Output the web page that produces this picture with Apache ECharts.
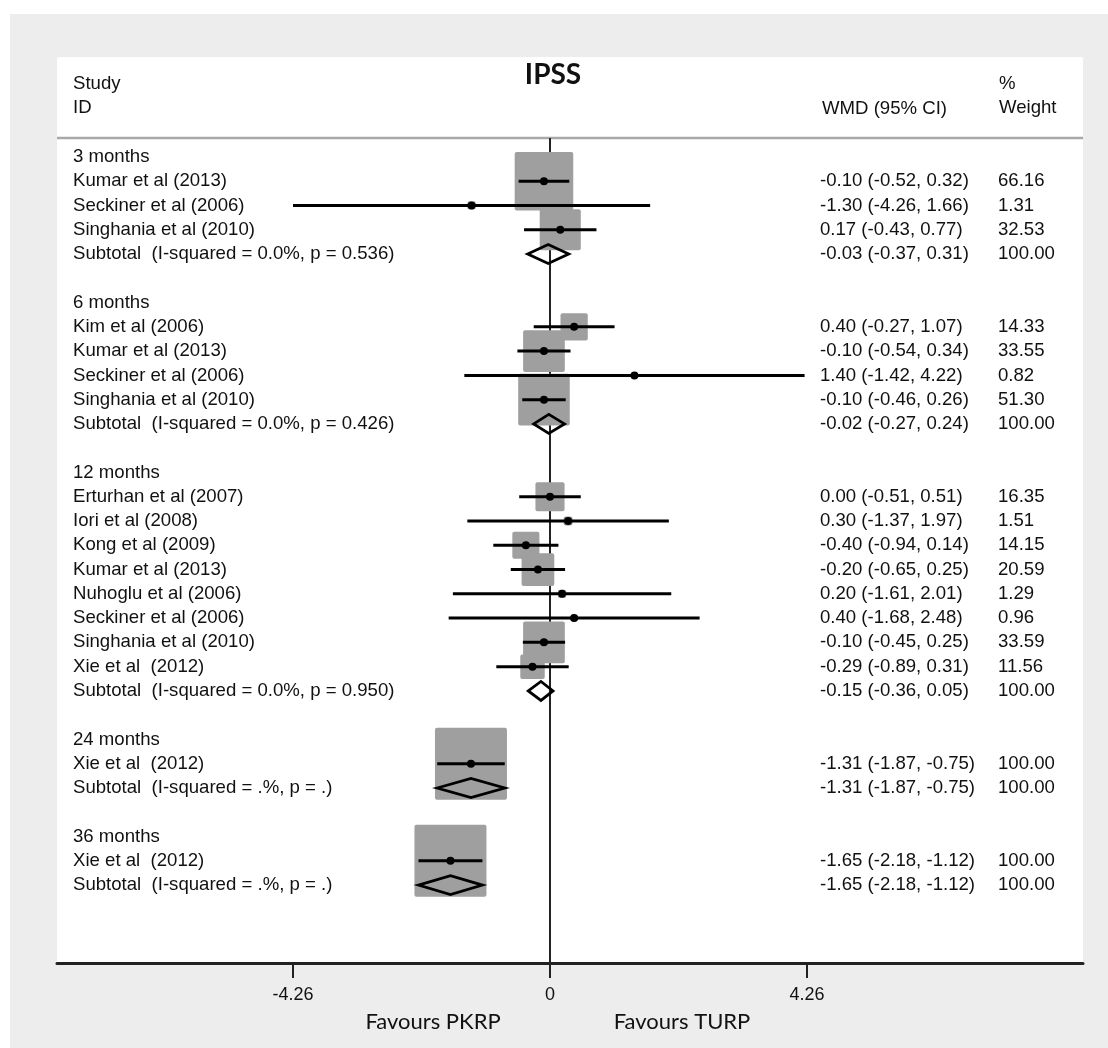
<!DOCTYPE html>
<html><head><meta charset="utf-8">
<script src="https://cdn.jsdelivr.net/npm/echarts@6/dist/echarts.min.js"></script>
<style>html,body{margin:0;padding:0;background:#fff}#c{width:1108px;height:1048px}</style>
</head><body><div id="c"></div>
<script>
// ---- data ----
const rowLabels = [
  "3 months", "Kumar et al (2013)", "Seckiner et al (2006)", "Singhania et al (2010)", "Subtotal  (I-squared = 0.0%, p = 0.536)", "",
  "6 months", "Kim et al (2006)", "Kumar et al (2013)", "Seckiner et al (2006)", "Singhania et al (2010)", "Subtotal  (I-squared = 0.0%, p = 0.426)", "",
  "12 months", "Erturhan et al (2007)", "Iori et al (2008)", "Kong et al (2009)", "Kumar et al (2013)", "Nuhoglu et al (2006)", "Seckiner et al (2006)", "Singhania et al (2010)", "Xie et al  (2012)", "Subtotal  (I-squared = 0.0%, p = 0.950)", "",
  "24 months", "Xie et al  (2012)", "Subtotal  (I-squared = .%, p = .)", "",
  "36 months", "Xie et al  (2012)", "Subtotal  (I-squared = .%, p = .)"
];
const rowTypes = [
  "group","study","study","study","subtotal","blank",
  "group","study","study","study","study","subtotal","blank",
  "group","study","study","study","study","study","study","study","study","subtotal","blank",
  "group","study","subtotal","blank",
  "group","study","subtotal"
];
const est = [null,-0.10,-1.30,0.17,-0.03,null, null,0.40,-0.10,1.40,-0.10,-0.02,null, null,0.00,0.30,-0.40,-0.20,0.20,0.40,-0.10,-0.29,-0.15,null, null,-1.31,-1.31,null, null,-1.65,-1.65];
const lo  = [null,-0.52,-4.26,-0.43,-0.37,null, null,-0.27,-0.54,-1.42,-0.46,-0.27,null, null,-0.51,-1.37,-0.94,-0.65,-1.61,-1.68,-0.45,-0.89,-0.36,null, null,-1.87,-1.87,null, null,-2.18,-2.18];
const hi  = [null,0.32,1.66,0.77,0.31,null, null,1.07,0.34,4.22,0.26,0.24,null, null,0.51,1.97,0.14,0.25,2.01,2.48,0.25,0.31,0.05,null, null,-0.75,-0.75,null, null,-1.12,-1.12];
const weights = [null,66.16,1.31,32.53,100.00,null, null,14.33,33.55,0.82,51.30,100.00,null, null,16.35,1.51,14.15,20.59,1.29,0.96,33.59,11.56,100.00,null, null,100.00,100.00,null, null,100.00,100.00];
const xTickValues = [-4.26, 0, 4.26];
const xTickLabels = ["-4.26", "0", "4.26"];
const title = "IPSS";
const headers = {study: "Study", id: "ID", wmd: "WMD (95% CI)", pct: "%", weight: "Weight"};
const favours = ["Favours PKRP", "Favours TURP"];

// ---- layout constants ----
const FONT = '"Liberation Sans", Arial, sans-serif';
const FS = 18.6;
const BOX_K = 7.2;
const X_LABEL = 73, X_WMD = 820, X_WT = 998;

const studyData = [], subData = [], textData = [];
rowTypes.forEach((t, i) => {
  if (t === "study") studyData.push([est[i], i, lo[i], hi[i], weights[i]]);
  if (t === "subtotal") subData.push([est[i], i, lo[i], hi[i], weights[i]]);
  textData.push([0, i]);
});
const fmt = v => v.toFixed(2);

const chart = echarts.init(document.getElementById('c'), null, {renderer: 'canvas'});
const txt = (text, x, y, extra) => ({type: 'text', z: 10, style: Object.assign({text: text, x: x, y: y, font: FS + 'px ' + FONT, fill: '#111', verticalAlign: 'middle', textVerticalAlign: 'middle'}, extra || {})});
const option = {
  backgroundColor: '#ffffff',
  animation: false,
  graphic: {elements: [
    {type: 'rect', z: -10, shape: {x: 10, y: 14, width: 1098, height: 1034}, style: {fill: '#ededed'}},
    {type: 'rect', z: -9, shape: {x: 57, y: 57, width: 1026, height: 906, r: 2}, style: {fill: '#ffffff'}},
    {type: 'line', z: 1, shape: {x1: 57, y1: 138, x2: 1083, y2: 138}, style: {stroke: '#a8a8a8', lineWidth: 2.5}},
    txt(headers.study, X_LABEL, 84),
    txt(headers.id, X_LABEL, 108),
    txt(headers.wmd, X_WMD + 2, 109),
    txt(headers.pct, X_WT + 1, 84),
    txt(headers.weight, X_WT + 1, 108),
    txt(title, 553, 75, {font: 'bold 28px Lato, sans-serif', align: 'center', textAlign: 'center'}),
    txt(favours[0], 433, 1022, {font: '22px Lato, sans-serif', align: 'center', textAlign: 'center'}),
    txt(favours[1], 682, 1022, {font: '22px Lato, sans-serif', align: 'center', textAlign: 'center'})
  ]},
  grid: {left: 57, right: 25, top: 138, bottom: 85, containLabel: false},
  xAxis: {
    type: 'value', min: -8.172, max: 8.835,
    axisLine: {show: true, onZero: false, lineStyle: {color: '#222', width: 3}},
    axisTick: {show: true, customValues: xTickValues, length: 15, lineStyle: {color: '#222', width: 2}},
    axisLabel: {show: true, customValues: xTickValues, margin: 23, fontSize: 18, fontFamily: FONT, color: '#111',
      formatter: v => { const k = xTickValues.indexOf(v); return k >= 0 ? xTickLabels[k] : ''; }},
    splitLine: {show: false}
  },
  yAxis: {type: 'value', inverse: true, min: -0.78, max: 33.21, show: false, splitLine: {show: false}},
  series: [
    { // boxes
      type: 'custom', z: 3, clip: false, data: studyData, encode: {x: 0, y: 1},
      renderItem: (p, api) => {
        const c = api.coord([api.value(0), api.value(1)]);
        const s = BOX_K * Math.sqrt(api.value(4));
        return {type: 'rect', shape: {x: c[0] - s / 2, y: c[1] - s / 2, width: s, height: s, r: 2}, style: {fill: '#9f9f9f'}};
      },
      markLine: {silent: true, symbol: 'none', label: {show: false}, lineStyle: {color: '#222', width: 2, type: 'solid'},
        data: [{xAxis: 0}], z: 2}
    },
    { // CI lines + dots
      type: 'custom', z: 4, clip: false, data: studyData, encode: {x: 0, y: 1},
      renderItem: (p, api) => {
        const r = api.value(1);
        const a = api.coord([api.value(2), r]), b = api.coord([api.value(3), r]), c = api.coord([api.value(0), r]);
        return {type: 'group', children: [
          {type: 'line', shape: {x1: a[0], y1: a[1], x2: b[0], y2: b[1]}, style: {stroke: '#000', lineWidth: 3}},
          {type: 'circle', shape: {cx: c[0], cy: c[1], r: 4}, style: {fill: '#000'}}
        ]};
      }
    },
    { // diamonds
      type: 'custom', z: 5, clip: false, data: subData, encode: {x: 0, y: 1},
      renderItem: (p, api) => {
        const r = api.value(1);
        const a = api.coord([api.value(2), r]), b = api.coord([api.value(3), r]), c = api.coord([api.value(0), r]);
        const h = 9.5;
        return {type: 'polygon', shape: {points: [[a[0], a[1]], [c[0], c[1] - h], [b[0], b[1]], [c[0], c[1] + h]]},
          style: {fill: 'none', stroke: '#000', lineWidth: 2.8, lineJoin: 'miter'}};
      }
    },
    { // row texts
      type: 'custom', z: 6, clip: false, data: textData, encode: {x: 0, y: 1},
      renderItem: (p, api) => {
        const i = api.value(1);
        const y = api.coord([0, i])[1];
        const base = {font: FS + 'px ' + FONT, fill: '#111', verticalAlign: 'middle', textVerticalAlign: 'middle'};
        const kids = [];
        if (rowLabels[i]) kids.push({type: 'text', style: Object.assign({text: rowLabels[i], x: X_LABEL, y: y}, base)});
        if (est[i] !== null) {
          kids.push({type: 'text', style: Object.assign({text: fmt(est[i]) + ' (' + fmt(lo[i]) + ', ' + fmt(hi[i]) + ')', x: X_WMD, y: y}, base)});
          kids.push({type: 'text', style: Object.assign({text: fmt(weights[i]), x: X_WT, y: y}, base)});
        }
        return {type: 'group', children: kids};
      }
    }
  ]
};
chart.setOption(option);
</script>
</body></html>
